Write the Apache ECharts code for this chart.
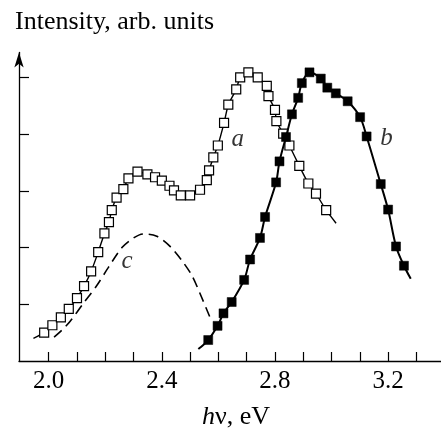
<!DOCTYPE html>
<html><head><meta charset="utf-8">
<script src="https://cdn.jsdelivr.net/npm/echarts@6/dist/echarts.min.js"></script>
<style>html,body{margin:0;padding:0;background:#fff}#c{width:441px;height:435px}</style>
</head><body><div id="c"></div>
<script>
// Curve a (open squares)
const aX=[1.984,2.013,2.043,2.071,2.100,2.125,2.150,2.175,2.197,2.213,2.223,2.240,2.264,2.282,2.314,2.349,2.376,2.400,2.427,2.443,2.467,2.500,2.535,2.559,2.567,2.582,2.598,2.620,2.635,2.663,2.677,2.706,2.739,2.771,2.777,2.800,2.805,2.829,2.851,2.886,2.918,2.945,2.981];
const aY=[0.50,0.63,0.77,0.92,1.11,1.32,1.58,1.92,2.25,2.45,2.66,2.88,3.03,3.22,3.34,3.29,3.24,3.18,3.09,3.01,2.92,2.92,3.02,3.19,3.36,3.59,3.80,4.20,4.52,4.79,5.00,5.09,5.00,4.85,4.67,4.43,4.23,4.01,3.80,3.44,3.13,2.95,2.66];
const aEnds=[[1.946,0.40],[3.016,2.43]];
// Curve b (filled squares)
const bX=[2.564,2.597,2.618,2.647,2.691,2.712,2.747,2.765,2.804,2.816,2.839,2.860,2.882,2.895,2.922,2.962,2.985,3.015,3.057,3.101,3.124,3.174,3.200,3.228,3.256];
const bY=[0.37,0.62,0.84,1.04,1.43,1.79,2.17,2.54,3.15,3.52,3.95,4.35,4.64,4.90,5.09,4.98,4.82,4.72,4.58,4.30,3.96,3.12,2.67,2.02,1.68];
const bEnds=[[2.529,0.21],[3.280,1.45]];
// Curve c (dashed)
const cX=[2.019,2.048,2.076,2.123,2.170,2.211,2.259,2.300,2.335,2.382,2.429,2.471,2.506,2.535,2.571];
const cY=[0.42,0.55,0.70,1.02,1.33,1.65,2.00,2.17,2.24,2.20,2.02,1.77,1.51,1.19,0.76];
// Tick values
const xTicks=[2.0,2.1,2.2,2.3,2.4,2.5,2.6,2.7,2.8,2.9,3.0,3.1,3.2,3.3];
const xLabels=[2.0,2.4,2.8,3.2];
const yTicks=[1,2,3,4,5];
// Curve letters
const letters=['a','b','c'];
const letterX=[2.668,3.194,2.277];
const letterY=[3.91,3.93,1.75];

const FF='Liberation Serif';
function withEnds(xs,ys,ends){
  const d=[{value:ends[0],symbol:'none'}];
  xs.forEach((x,i)=>d.push([x,ys[i]]));
  d.push({value:ends[1],symbol:'none'});
  return d;
}
const chart=echarts.init(document.getElementById('c'),null,{renderer:'canvas'});
chart.setOption({
  animation:false,
  backgroundColor:'#fff',
  title:{text:'Intensity, arb. units',left:10,top:4,textStyle:{fontFamily:FF,fontSize:26,fontWeight:'normal',color:'#000'}},
  grid:{left:19,right:0,top:52.5,bottom:68,containLabel:false},
  xAxis:{type:'value',min:1.895,max:3.387,
    name:'{i|h}ν, eV',nameLocation:'middle',nameGap:43,
    nameTextStyle:{fontFamily:FF,fontSize:26,color:'#000',padding:[0,0,0,12],rich:{i:{fontFamily:FF,fontSize:26,fontStyle:'italic',color:'#000'}}},
    axisLine:{show:true,lineStyle:{color:'#000',width:1.3}},
    axisTick:{show:true,inside:true,length:9,customValues:xTicks,lineStyle:{color:'#000',width:1.2}},
    axisLabel:{customValues:xLabels,formatter:v=>v.toFixed(1),fontFamily:FF,fontSize:25,color:'#000',margin:8},
    splitLine:{show:false}},
  yAxis:{type:'value',min:0,max:5.44,
    axisLine:{show:true,symbol:['none','arrow'],symbolSize:[7,15],lineStyle:{color:'#000',width:1.3}},
    axisTick:{show:true,inside:true,length:10,customValues:yTicks,lineStyle:{color:'#000',width:1.2}},
    axisLabel:{show:false},splitLine:{show:false}},
  series:[
    {type:'line',data:cX.map((x,i)=>[x,cY[i]]),smooth:0.3,showSymbol:false,symbol:'none',
     lineStyle:{color:'#000',width:1.6,type:[10,6]}},
    {type:'line',data:withEnds(aX,aY,aEnds),smooth:0.2,symbol:'rect',symbolSize:9,
     lineStyle:{color:'#000',width:1.4},itemStyle:{color:'#fff',borderColor:'#000',borderWidth:1.2},z:3},
    {type:'line',data:withEnds(bX,bY,bEnds),smooth:0.3,symbol:'rect',symbolSize:9,
     lineStyle:{color:'#000',width:2},itemStyle:{color:'#000',borderColor:'#000',borderWidth:0.5},z:4},
    {type:'scatter',data:letters.map((t,i)=>[letterX[i],letterY[i],t]),symbolSize:0,silent:true,
     label:{show:true,position:'inside',formatter:p=>p.data[2],fontFamily:FF,fontStyle:'italic',fontSize:25,color:'#000'}}
  ]
});
</script></body></html>
